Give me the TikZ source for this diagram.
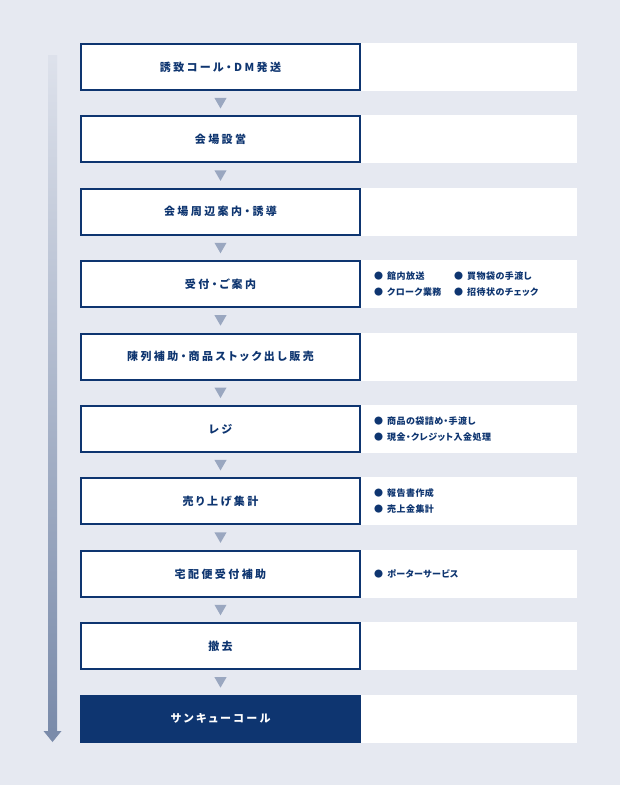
\documentclass[tikz,border=0pt]{standalone}
\usepackage{fontspec}
\usetikzlibrary{positioning,calc,shapes.geometric}
\newfontfamily\jp{Noto Sans CJK JP}[LetterSpace=22, RawFeature=+palt]
\newfontfamily\jpsmall{Noto Sans CJK JP}[LetterSpace=5, RawFeature=+palt]
\definecolor{bgc}{HTML}{E6E9F1}
\definecolor{navy}{HTML}{0E3570}
\definecolor{tric}{HTML}{9AA7C0}
\definecolor{arrc}{HTML}{7A8BAA}
\tikzset{
  stepbox/.style={draw=navy, line width=2pt, fill=white, minimum width=279pt,
    minimum height=46pt, inner sep=0pt, text=navy,
    font=\jp\bfseries\fontsize{11}{13}\selectfont},
  lastbox/.style={stepbox, fill=navy, text=white},
  panel/.style={fill=white, minimum width=216pt, minimum height=48pt, inner sep=0pt},
  tri/.style={regular polygon, regular polygon sides=3, shape border rotate=180,
    fill=tric, minimum size=14pt, inner sep=0pt, yshift=1.75pt},
  note/.style={text=navy, align=left, inner sep=0pt, anchor=west,
    font=\jpsmall\bfseries\fontsize{9}{16}\selectfont},
}
\newcommand{\pt}{●\hspace{4pt}}
\begin{document}
\begin{tikzpicture}[x=1pt, y=-1pt]
      \fill[bgc] (0,0) rectangle (620,785);
      \useasboundingbox (0,0) rectangle (620,785);
      % Time arrow
      \coordinate (atop) at (52.5,55);
      \coordinate (abot) at (52.5,731);
      \shade[top color=bgc!92!arrc, bottom color=arrc]
        ($(atop)+(-4.5,0)$) rectangle ($(abot)+(4.5,0)$);
      \fill[arrc] ($(abot)+(-9,0)$) -- ($(abot)+(9,0)$) -- ($(abot)+(0,11)$) -- cycle;
      % Define nodes
      \node[stepbox] (s1) at (220.5,67) {誘致コール・DM発送};
      \node[stepbox, below=24.4pt of s1] (s2) {会場設営};
      \node[stepbox, below=24.4pt of s2] (s3) {会場周辺案内・誘導};
      \node[stepbox, below=24.4pt of s3] (s4) {受付・ご案内};
      \node[stepbox, below=24.4pt of s4] (s5) {陳列補助・商品ストック出し販売};
      \node[stepbox, below=24.4pt of s5] (s6) {レジ};
      \node[stepbox, below=24.4pt of s6] (s7) {売り上げ集計};
      \node[stepbox, below=24.4pt of s7] (s8) {宅配便受付補助};
      \node[stepbox, below=24.4pt of s8] (s9) {撤去};
      \node[lastbox, below=24.4pt of s9] (s10) {サンキューコール};
      % Side panels
      \node[panel, right=0pt of s1] (p1) {};
      \node[panel, right=0pt of s2] (p2) {};
      \node[panel, right=0pt of s3] (p3) {};
      \node[panel, right=0pt of s4] (p4) {};
      \node[panel, right=0pt of s5] (p5) {};
      \node[panel, right=0pt of s6] (p6) {};
      \node[panel, right=0pt of s7] (p7) {};
      \node[panel, right=0pt of s8] (p8) {};
      \node[panel, right=0pt of s9] (p9) {};
      \node[panel, right=0pt of s10] (p10) {};
      % Notes
      \node[note] (n4a) at ($(p4.west)+(13,0)$) {\pt 館内放送\\\pt クローク業務};
      \node[note] (n4b) at ($(p4.west)+(93,0)$) {\pt 買物袋の手渡し\\\pt 招待状のチェック};
      \node[note] (n6) at ($(p6.west)+(13,0)$) {\pt 商品の袋詰め・手渡し\\\pt 現金・クレジット入金処理};
      \node[note] (n7) at ($(p7.west)+(13,0)$) {\pt 報告書作成\\\pt 売上金集計};
      \node[note] (n8) at ($(p8.west)+(13,0)$) {\pt ポーターサービス};
      % Connect nodes
      \node[tri] (t1) at ($(s1.south)!.5!(s2.north)$) {};
      \node[tri] (t2) at ($(s2.south)!.5!(s3.north)$) {};
      \node[tri] (t3) at ($(s3.south)!.5!(s4.north)$) {};
      \node[tri] (t4) at ($(s4.south)!.5!(s5.north)$) {};
      \node[tri] (t5) at ($(s5.south)!.5!(s6.north)$) {};
      \node[tri] (t6) at ($(s6.south)!.5!(s7.north)$) {};
      \node[tri] (t7) at ($(s7.south)!.5!(s8.north)$) {};
      \node[tri] (t8) at ($(s8.south)!.5!(s9.north)$) {};
      \node[tri] (t9) at ($(s9.south)!.5!(s10.north)$) {};
\end{tikzpicture}
\end{document}
